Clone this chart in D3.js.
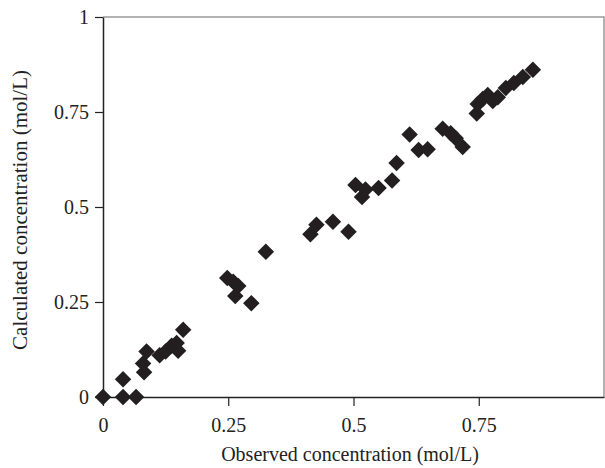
<!DOCTYPE html>
<html>
<head>
<meta charset="utf-8">
<script src="https://cdn.jsdelivr.net/npm/d3@7"></script>
<style>
  body { margin: 0; background: #fff; }
  svg text { font-family: "Liberation Serif", "Times New Roman", serif; fill: #222; }
</style>
</head>
<body>
<svg id="chart" width="605" height="468"></svg>
<script>
// Observed vs calculated concentration (mol/L)
const observed = [0, 0.04, 0.04, 0.066, 0.082, 0.08, 0.087, 0.113, 0.125, 0.137, 0.147, 0.15, 0.16,
  0.248, 0.26, 0.27, 0.264, 0.296, 0.325,
  0.414, 0.426, 0.459, 0.49, 0.504, 0.524, 0.517, 0.55, 0.577, 0.586,
  0.612, 0.63, 0.648, 0.678, 0.694, 0.704, 0.718,
  0.746, 0.748, 0.758, 0.768, 0.778, 0.788, 0.804, 0.82, 0.838, 0.858];
const calculated = [0, 0.047, 0.0, 0.0, 0.065, 0.088, 0.12, 0.11, 0.12, 0.135, 0.142, 0.122, 0.177,
  0.313, 0.303, 0.292, 0.266, 0.247, 0.382,
  0.428, 0.453, 0.461, 0.435, 0.558, 0.546, 0.526, 0.55, 0.57, 0.616,
  0.691, 0.65, 0.652, 0.706, 0.694, 0.681, 0.658,
  0.746, 0.771, 0.784, 0.795, 0.779, 0.789, 0.813, 0.826, 0.842, 0.861];
const xTicks = [0, 0.25, 0.5, 0.75];
const yTicks = [0, 0.25, 0.5, 0.75, 1];
const xTitle = 'Observed concentration (mol/L)';
const yTitle = 'Calculated concentration (mol/L)';

const svg = d3.select('#chart');
const plotL = 103, plotR = 604, plotT = 17, plotB = 397;
const fontSize = 20;

const x = d3.scaleLinear().domain([0, 1]).range([plotL, plotR]);
const y = d3.scaleLinear().domain([0, 1]).range([plotB, plotT]);

// top and right frame lines (grey)
svg.append('path')
  .attr('d', `M${plotL},${plotT}H${plotR}V${plotB}`)
  .attr('fill', 'none')
  .attr('stroke', '#999')
  .attr('stroke-width', 1.5);

const fmt = d => String(d);

const xAxis = svg.append('g')
  .attr('transform', `translate(0,${plotB})`)
  .call(d3.axisBottom(x).tickValues(xTicks).tickFormat(fmt).tickSize(9).tickPadding(12).tickSizeOuter(0));
const yAxis = svg.append('g')
  .attr('transform', `translate(${plotL},0)`)
  .call(d3.axisLeft(y).tickValues(yTicks).tickFormat(fmt).tickSize(8).tickPadding(6).tickSizeOuter(0));

[xAxis, yAxis].forEach(g => {
  g.select('.domain').attr('stroke', '#222').attr('stroke-width', 1.5);
  g.selectAll('.tick line').attr('stroke', '#222').attr('stroke-width', 1.2);
  g.selectAll('.tick text').attr('font-size', fontSize).attr('fill', '#222')
    .style('font-family', '"Liberation Serif", serif');
});

// diamonds
const diamond = d3.symbol().type(d3.symbolSquare).size(136);
svg.append('g')
  .selectAll('path')
  .data(observed.map((o, i) => ({ o, c: calculated[i] })))
  .join('path')
  .attr('d', diamond)
  .attr('transform', d => `translate(${x(d.o)},${y(d.c)}) rotate(45)`)
  .attr('fill', '#231f20');

svg.append('text')
  .attr('x', 350)
  .attr('y', 461)
  .attr('text-anchor', 'middle')
  .attr('font-size', fontSize)
  .text(xTitle);

svg.append('text')
  .attr('transform', `translate(27,210) rotate(-90)`)
  .attr('text-anchor', 'middle')
  .attr('font-size', 21)
  .text(yTitle);
</script>
</body>
</html>
